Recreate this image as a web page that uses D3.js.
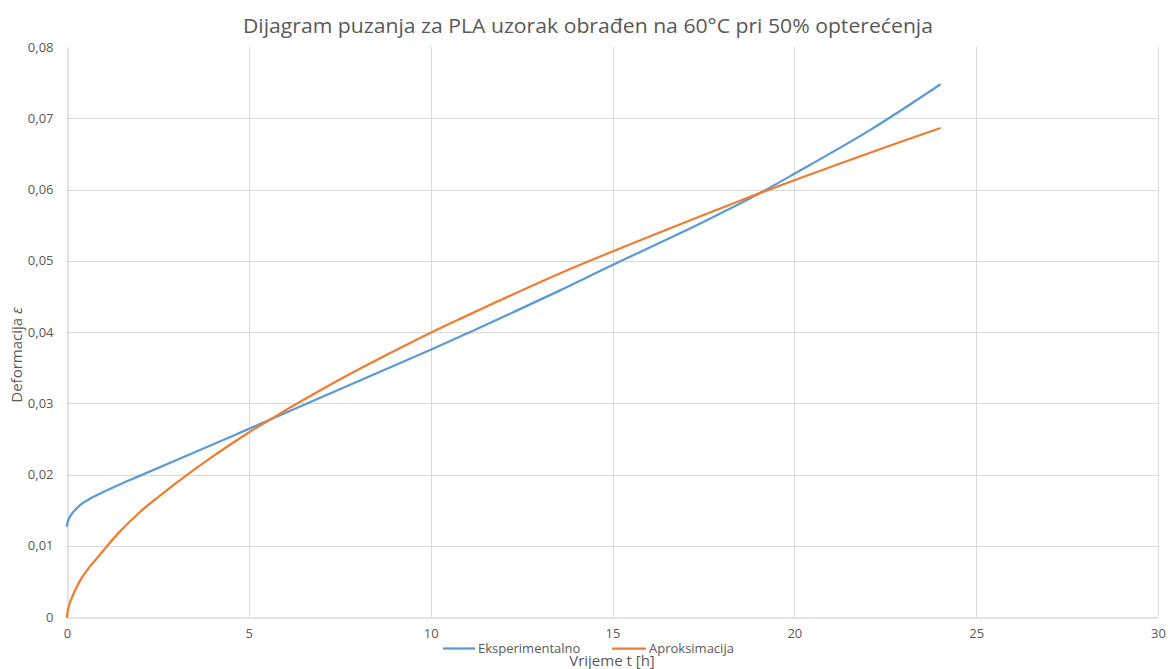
<!DOCTYPE html>
<html>
<head>
<meta charset="utf-8">
<script src="https://cdn.jsdelivr.net/npm/d3@7"></script>
<style>
  html, body { margin: 0; padding: 0; background: #fff; }
  svg { display: block; font-family: "Open Sans", "Liberation Sans", sans-serif; }
</style>
</head>
<body>
<svg id="chart" width="1168" height="669"></svg>
<script>
// Creep curves of a PLA sample (60 °C, 50 % load): measured vs. fitted strain
const expTime   = [0, 0.03, 0.08, 0.36, 0.6, 0.9, 1.4, 1.9, 3, 5, 7.2, 10, 11, 13.5, 15, 17.4, 18.8, 20, 22.1, 24];
const expStrain = [0.0128, 0.0135, 0.0141, 0.0157, 0.0165, 0.0173, 0.0185, 0.0196, 0.0220, 0.0264, 0.0313, 0.0375, 0.0398, 0.0457, 0.0494, 0.0552, 0.0588, 0.0622, 0.0684, 0.0747];

const fitTime   = [0, 0.02, 0.08, 0.2, 0.36, 0.6, 0.9, 1.4, 2, 2.5, 3, 4, 5, 7.2, 10, 11, 13.5, 15, 17.4, 18.8, 20, 22.6, 24];
const fitStrain = [0, 0.0008, 0.0020, 0.0035, 0.0051, 0.0069, 0.0087, 0.0117, 0.0147, 0.0168, 0.0188, 0.0225, 0.0259, 0.0325, 0.0399, 0.0423, 0.0481, 0.0513, 0.0562, 0.0590, 0.0613, 0.0661, 0.0686];

const xTicks = [0, 5, 10, 15, 20, 25, 30];
const xTickLabels = ["0", "5", "10", "15", "20", "25", "30"];
const yTicks = [0, 0.01, 0.02, 0.03, 0.04, 0.05, 0.06, 0.07, 0.08];
const yTickLabels = ["0", "0,01", "0,02", "0,03", "0,04", "0,05", "0,06", "0,07", "0,08"];

const seriesNames = ["Eksperimentalno", "Aproksimacija"];
const seriesColors = ["#5B9BD5", "#ED7D31"];

const titleText = "Dijagram puzanja za PLA uzorak obrađen na 60°C pri 50% opterećenja";
const xTitle = "Vrijeme t [h]";
const yTitle = "Deformacija ";

const svg = d3.select("#chart");
const textColor = "#595959";

const plot = { left: 67, right: 1158, top: 47, bottom: 617 };

const x = d3.scaleLinear().domain([0, 30]).range([plot.left, plot.right]);
const y = d3.scaleLinear().domain([0, 0.08]).range([plot.bottom, plot.top]);

// Gridlines
const grid = svg.append("g").attr("class", "grid");
grid.selectAll("line.h")
  .data(yTicks.filter(v => v > 0 && v < 0.08))
  .join("line")
  .attr("x1", plot.left).attr("x2", plot.right)
  .attr("y1", d => Math.round(y(d)) + 0.5).attr("y2", d => Math.round(y(d)) + 0.5)
  .attr("stroke", "#d9d9d9").attr("stroke-width", 1);
grid.selectAll("line.v")
  .data(xTicks.filter(v => v > 0))
  .join("line")
  .attr("y1", plot.top).attr("y2", plot.bottom)
  .attr("x1", d => Math.round(x(d)) + 0.5).attr("x2", d => Math.round(x(d)) + 0.5)
  .attr("stroke", "#d9d9d9").attr("stroke-width", 1);

// Axes
const xAxis = d3.axisBottom(x).tickValues(xTicks)
  .tickFormat((d, i) => xTickLabels[i]).tickSize(0).tickPadding(11);
const yAxis = d3.axisLeft(y).tickValues(yTicks)
  .tickFormat((d, i) => yTickLabels[i]).tickSize(0).tickPadding(14);

const gx = svg.append("g").attr("transform", `translate(0,${plot.bottom + 0.5})`).call(xAxis);
const gy = svg.append("g").attr("transform", `translate(${plot.left + 0.5},0)`).call(yAxis);
[gx, gy].forEach(g => {
  g.select(".domain").attr("stroke", "#c8c8c8").attr("stroke-width", 1);
  g.selectAll("text").attr("fill", textColor).style("font-size", "13px")
    .style("font-family", "'Open Sans', sans-serif");
});

// Curves
const line = d3.line()
  .x(d => x(d[0])).y(d => y(d[1]))
  .curve(d3.curveCatmullRom.alpha(0.5));

const series = [
  d3.zip(expTime, expStrain),
  d3.zip(fitTime, fitStrain)
];

svg.append("g").selectAll("path")
  .data(series)
  .join("path")
  .attr("d", line)
  .attr("fill", "none")
  .attr("stroke", (d, i) => seriesColors[i])
  .attr("stroke-width", 2.25)
  .attr("stroke-linecap", "round")
  .attr("stroke-linejoin", "round");

// Title
svg.append("text")
  .attr("x", 588).attr("y", 33)
  .attr("text-anchor", "middle")
  .attr("fill", textColor)
  .style("font-size", "20px")
  .style("font-family", "'Open Sans', sans-serif")
  .attr("textLength", 690).attr("lengthAdjust", "spacingAndGlyphs")
  .text(titleText);

// Axis titles
svg.append("text")
  .attr("x", 612).attr("y", 666)
  .attr("text-anchor", "middle")
  .attr("fill", textColor)
  .style("font-size", "15px")
  .text(xTitle);

const yt = svg.append("text")
  .attr("transform", "translate(22,355) rotate(-90)")
  .attr("text-anchor", "middle")
  .attr("fill", textColor)
  .style("font-size", "15px");
yt.append("tspan").text(yTitle);
yt.append("tspan").style("font-style", "italic").text("ε");

// Legend
const legendItems = [
  { x1: 443, x2: 475, tx: 478 },
  { x1: 612, x2: 646, tx: 649 }
];
const legend = svg.append("g");
legendItems.forEach((it, i) => {
  legend.append("line")
    .attr("x1", it.x1).attr("x2", it.x2)
    .attr("y1", 648.5).attr("y2", 648.5)
    .attr("stroke", seriesColors[i]).attr("stroke-width", 2.25);
  legend.append("text")
    .attr("x", it.tx).attr("y", 653)
    .attr("fill", textColor)
    .style("font-size", "13px")
    .text(seriesNames[i]);
});
</script>
</body>
</html>
